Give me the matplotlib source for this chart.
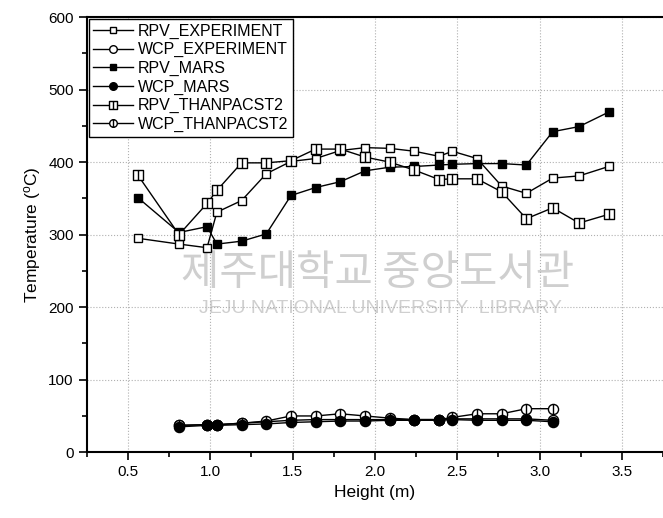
import matplotlib
matplotlib.use("Agg")
import matplotlib.pyplot as plt
from matplotlib.path import Path

plt.rcParams["font.family"] = ["Liberation Sans", "DejaVu Sans"]
plt.rcParams["mathtext.default"] = "regular"

# RPV data (20 heights)
rpv_x = [0.56, 0.81, 0.98, 1.04, 1.19, 1.34, 1.49, 1.64, 1.79, 1.94,
         2.09, 2.24, 2.39, 2.47, 2.62, 2.77, 2.92, 3.08, 3.24, 3.42]
rpv_exp = [295, 287, 282, 331, 347, 384, 401, 405, 416, 420,
           419, 415, 408, 415, 405, 367, 357, 378, 381, 394]
rpv_mars = [351, 303, 311, 287, 291, 301, 354, 365, 373, 388,
            393, 394, 396, 397, 398, 398, 396, 442, 449, 469]
rpv_than = [382, 300, 343, 361, 399, 399, 402, 418, 418, 407,
            400, 389, 376, 377, 377, 359, 322, 337, 316, 328]

# WCP data (17 heights)
wcp_x = [0.81, 0.98, 1.04, 1.19, 1.34, 1.49, 1.64, 1.79, 1.94,
         2.09, 2.24, 2.39, 2.47, 2.62, 2.77, 2.92, 3.08]
wcp_exp = [37, 38, 38, 40, 42, 44, 45, 45, 45,
           45, 45, 45, 46, 46, 46, 46, 44]
wcp_mars = [35, 37, 37, 38, 39, 41, 42, 43, 43,
            44, 44, 44, 45, 44, 44, 44, 42]
wcp_than = [37, 38, 38, 40, 43, 50, 50, 53, 50,
            47, 45, 45, 48, 53, 53, 60, 60]

labels = ["RPV_EXPERIMENT", "WCP_EXPERIMENT", "RPV_MARS", "WCP_MARS",
          "RPV_THANPACST2", "WCP_THANPACST2"]

# Origin-style "bar inside" markers
sq = Path([(-1, -1), (1, -1), (1, 1), (-1, 1), (-1, -1), (0, -1), (0, 1)],
          [Path.MOVETO, Path.LINETO, Path.LINETO, Path.LINETO, Path.CLOSEPOLY,
           Path.MOVETO, Path.LINETO])
circ = Path.make_compound_path(Path.unit_circle(),
                               Path([(0, -1), (0, 1)], [Path.MOVETO, Path.LINETO]))

fig = plt.figure(figsize=(6.63, 5.18), dpi=100)
ax = fig.add_axes([0.131, 0.127, 0.869, 0.840])

# library watermark
ax.text(0.505, 0.41, "제주대학교 중앙도서관", transform=ax.transAxes,
        family=["Noto Sans CJK KR"], fontsize=30, color="#cfcfcf",
        ha="center", va="center", zorder=0)
ax.text(0.51, 0.33, "JEJU NATIONAL UNIVERSITY  LIBRARY", transform=ax.transAxes,
        fontsize=14, color="#cfcfcf", ha="center", va="center", zorder=0)

kw = dict(color="black", lw=1.0, mec="black", mew=1.0)
ax.plot(rpv_x, rpv_exp, marker="s", ms=6.3, mfc="white", label=labels[0], **kw)
ax.plot(wcp_x, wcp_exp, marker="o", ms=7.3, mfc="white", label=labels[1], **kw)
ax.plot(rpv_x, rpv_mars, marker="s", ms=6.3, mfc="black", label=labels[2], **kw)
ax.plot(rpv_x, rpv_than, marker=sq, ms=7.2, mfc="white", label=labels[4], **kw)
ax.plot(wcp_x, wcp_than, marker=circ, ms=7.3, mfc="white", label=labels[5], **kw)
ax.plot(wcp_x, wcp_mars, marker="o", ms=7.3, mfc="black", label=labels[3], **kw)

handles, labs = ax.get_legend_handles_labels()
order = [labs.index(l) for l in labels]
leg = ax.legend([handles[i] for i in order], [labs[i] for i in order],
                loc="upper left", bbox_to_anchor=(0.003, 0.996), borderaxespad=0,
                fontsize=11.5, markerscale=0.75, handlelength=2.5, handletextpad=0.3,
                labelspacing=0.22, borderpad=0.3, fancybox=False,
                edgecolor="black", framealpha=1)
leg.get_frame().set_linewidth(1.0)

ax.set_xlim(0.25, 3.75)
ax.set_ylim(0, 600)
ax.set_xticks([0.5, 1.0, 1.5, 2.0, 2.5, 3.0, 3.5])
ax.set_xticks([0.25, 0.75, 1.25, 1.75, 2.25, 2.75, 3.25, 3.75], minor=True)
ax.set_yticks(range(0, 601, 100))
ax.set_yticks(range(50, 600, 100), minor=True)
ax.tick_params(which="major", direction="out", length=6, width=1.2, labelsize=11)
ax.tick_params(which="minor", direction="out", length=3.5, width=1.2)
ax.grid(True, which="major", ls=":", color="#b0b0b0", lw=0.8)
ax.set_axisbelow(True)
for s in ["left", "bottom", "top"]:
    ax.spines[s].set_linewidth(1.5)
ax.spines["right"].set_visible(False)

ax.set_xlabel("Height (m)", fontsize=12.5)
ax.set_ylabel("Temperature ($^{o}$C)", fontsize=12.5)

fig.savefig("out.png", dpi=100)
